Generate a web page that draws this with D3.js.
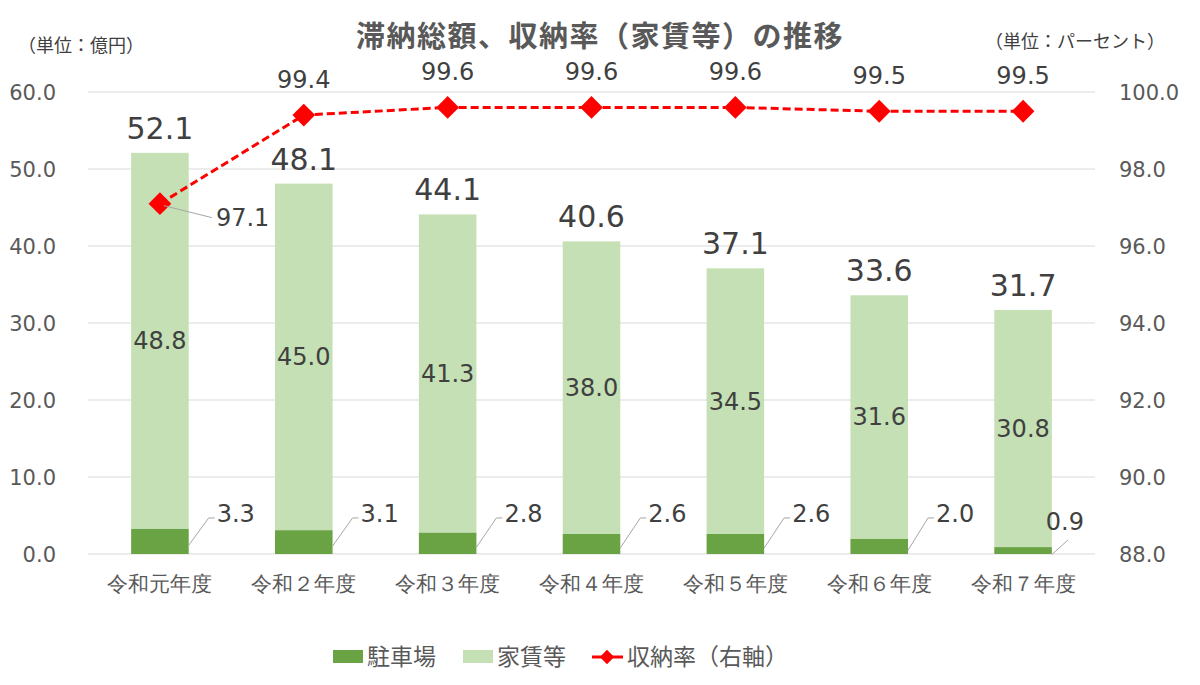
<!DOCTYPE html>
<html>
<head>
<meta charset="utf-8">
<script src="https://cdn.jsdelivr.net/npm/d3@7"></script>
<style>
  body { margin: 0; background: #fff; }
  svg { font-family: "Noto Sans CJK JP", "Noto Sans", sans-serif; }
  .num { font-family: "DejaVu Sans", "Noto Sans", sans-serif; }
</style>
</head>
<body>
<svg></svg>
<script>
// chart data
const years = ["令和元年度", "令和２年度", "令和３年度", "令和４年度", "令和５年度", "令和６年度", "令和７年度"];
const parking = [3.3, 3.1, 2.8, 2.6, 2.6, 2.0, 0.9];
const rent = [48.8, 45.0, 41.3, 38.0, 34.5, 31.6, 30.8];
const totals = [52.1, 48.1, 44.1, 40.6, 37.1, 33.6, 31.7];
const rate = [97.1, 99.4, 99.6, 99.6, 99.6, 99.5, 99.5];
const leftTicks = [0, 10, 20, 30, 40, 50, 60];
const rightTicks = [88, 90, 92, 94, 96, 98, 100];

const width = 1200, height = 685;
const svg = d3.select("svg").attr("width", width).attr("height", height);

const darkGreen = "#6aa343";
const lightGreen = "#c5e0b4";
const red = "#ff0000";
const textColor = "#404040";
const fmt = d3.format(".1f");

// scales
const x = d3.scaleBand().domain(years).range([88, 1095]).paddingInner(0.6).paddingOuter(0.3);
const y = d3.scaleLinear().domain([0, 60]).range([554, 92]);
const y2 = d3.scaleLinear().domain([88, 100]).range([554, 92]);

// gridlines
svg.append("g").selectAll("line").data(leftTicks).join("line")
  .attr("x1", 88).attr("x2", 1095)
  .attr("y1", d => y(d)).attr("y2", d => y(d))
  .attr("stroke", "#d9d9d9").attr("stroke-width", 1);

// left axis
const leftAxis = svg.append("g").attr("transform", "translate(56,0)")
  .call(d3.axisLeft(y).tickValues(leftTicks).tickFormat(fmt).tickSize(0).tickPadding(0));
leftAxis.select(".domain").remove();
leftAxis.selectAll("text").attr("class", "num").attr("fill", "#595959").style("font-size", "21px").attr("dy", "0.35em");

// right axis
const rightAxis = svg.append("g").attr("transform", "translate(1119,0)")
  .call(d3.axisRight(y2).tickValues(rightTicks).tickFormat(fmt).tickSize(0).tickPadding(0));
rightAxis.select(".domain").remove();
rightAxis.selectAll("text").attr("class", "num").attr("fill", "#595959").style("font-size", "21px").attr("dy", "0.35em");

// bottom axis labels
const bottomAxis = svg.append("g").attr("transform", "translate(0,554)")
  .call(d3.axisBottom(x).tickSize(0).tickPadding(22));
bottomAxis.select(".domain").remove();
bottomAxis.selectAll("text").attr("fill", "#595959").style("font-size", "21px");

// stacked bars
svg.append("g").selectAll("rect").data(years).join("rect")
  .attr("x", d => x(d)).attr("width", x.bandwidth())
  .attr("y", (d, i) => y(parking[i])).attr("height", (d, i) => y(0) - y(parking[i]))
  .attr("fill", darkGreen);

svg.append("g").selectAll("rect").data(years).join("rect")
  .attr("x", d => x(d)).attr("width", x.bandwidth())
  .attr("y", (d, i) => y(parking[i] + rent[i])).attr("height", (d, i) => y(parking[i]) - y(parking[i] + rent[i]))
  .attr("fill", lightGreen);

// rent labels (middle of segment)
svg.append("g").selectAll("text").data(years).join("text")
  .attr("class", "num")
  .attr("x", d => x(d) + x.bandwidth() / 2)
  .attr("y", (d, i) => y(parking[i] + rent[i] / 2))
  .attr("dy", "0.35em").attr("text-anchor", "middle")
  .attr("fill", textColor).style("font-size", "24px")
  .text((d, i) => fmt(rent[i]));

// totals on top
svg.append("g").selectAll("text").data(years).join("text")
  .attr("class", "num")
  .attr("x", d => x(d) + x.bandwidth() / 2)
  .attr("y", (d, i) => y(totals[i]) - 14)
  .attr("text-anchor", "middle")
  .attr("fill", textColor).style("font-size", "30px")
  .text((d, i) => fmt(totals[i]));

// parking labels with leader lines
const pLabels = svg.append("g");
years.forEach((d, i) => {
  const bx = x(d) + x.bandwidth();
  const by = y(parking[i] / 2) + 4;
  const small = parking[i] < 1;
  const ly = small ? y(4.2) : y(5.2);
  const lx = small ? bx - 6 : bx + 28;
  const ex = small ? bx + 16 : bx + 20;
  const ey = small ? y(1.8) : ly + 8;
  const path = small
    ? [[bx, by], [ex, ey]]
    : [[bx, by], [ex, ey - 4], [bx + 26, ey - 4]];
  pLabels.append("path")
    .attr("d", d3.line()(path))
    .attr("fill", "none").attr("stroke", "#a6a6a6").attr("stroke-width", 1);
  pLabels.append("text")
    .attr("class", "num")
    .attr("x", lx).attr("y", ly)
    .attr("dy", "0.35em")
    .attr("fill", textColor).style("font-size", "24px")
    .text(fmt(parking[i]));
});

// collection rate line
const cx = d => x(d) + x.bandwidth() / 2;
svg.append("path")
  .datum(years)
  .attr("d", d3.line().x(cx).y((d, i) => y2(rate[i])))
  .attr("fill", "none").attr("stroke", red).attr("stroke-width", 3)
  .attr("stroke-dasharray", "8,4");

const diamond = d3.symbol().type(d3.symbolDiamond2).size(330);
svg.append("g").selectAll("path").data(years).join("path")
  .attr("d", diamond)
  .attr("transform", (d, i) => `translate(${cx(d)},${y2(rate[i])})`)
  .attr("fill", red);

// rate labels
years.forEach((d, i) => {
  const px = cx(d), py = y2(rate[i]);
  if (i === 0) {
    svg.append("path")
      .attr("d", d3.line()([[px + 4, py + 2], [px + 52, py + 14]]))
      .attr("stroke", "#a6a6a6").attr("fill", "none");
    svg.append("text")
      .attr("class", "num")
      .attr("x", px + 56).attr("y", py + 14).attr("dy", "0.35em")
      .attr("fill", textColor).style("font-size", "24px")
      .text(fmt(rate[i]));
  } else {
    svg.append("text")
      .attr("class", "num")
      .attr("x", px).attr("y", py - 36).attr("dy", "0.35em")
      .attr("text-anchor", "middle")
      .attr("fill", textColor).style("font-size", "24px")
      .text(fmt(rate[i]));
  }
});

// title and units
svg.append("text").attr("x", 600).attr("y", 47).attr("text-anchor", "middle")
  .attr("fill", "#595959").style("font-size", "29px").style("font-weight", "bold")
  .style("letter-spacing", "1.5px")
  .text("滞納総額、収納率（家賃等）の推移");
svg.append("text").attr("x", 18).attr("y", 52)
  .attr("fill", textColor).style("font-size", "18px").text("（単位：億円）");
svg.append("text").attr("x", 1165).attr("y", 48).attr("text-anchor", "end")
  .attr("fill", textColor).style("font-size", "18px").text("（単位：パーセント）");

// legend
const legend = svg.append("g").attr("transform", "translate(0,657)");
legend.append("rect").attr("x", 333).attr("y", -7).attr("width", 30).attr("height", 13).attr("fill", darkGreen);
legend.append("text").attr("x", 367).attr("dy", "0.35em").attr("fill", "#595959").style("font-size", "23px").text("駐車場");
legend.append("rect").attr("x", 463).attr("y", -7).attr("width", 30).attr("height", 13).attr("fill", lightGreen);
legend.append("text").attr("x", 497).attr("dy", "0.35em").attr("fill", "#595959").style("font-size", "23px").text("家賃等");
legend.append("line").attr("x1", 592).attr("x2", 623).attr("stroke", red).attr("stroke-width", 3);
legend.append("path").attr("d", d3.symbol().type(d3.symbolDiamond2).size(130)).attr("transform", "translate(607,0)").attr("fill", red);
legend.append("text").attr("x", 627).attr("dy", "0.35em").attr("fill", "#595959").style("font-size", "23px").text("収納率（右軸）");
</script>
</body>
</html>
